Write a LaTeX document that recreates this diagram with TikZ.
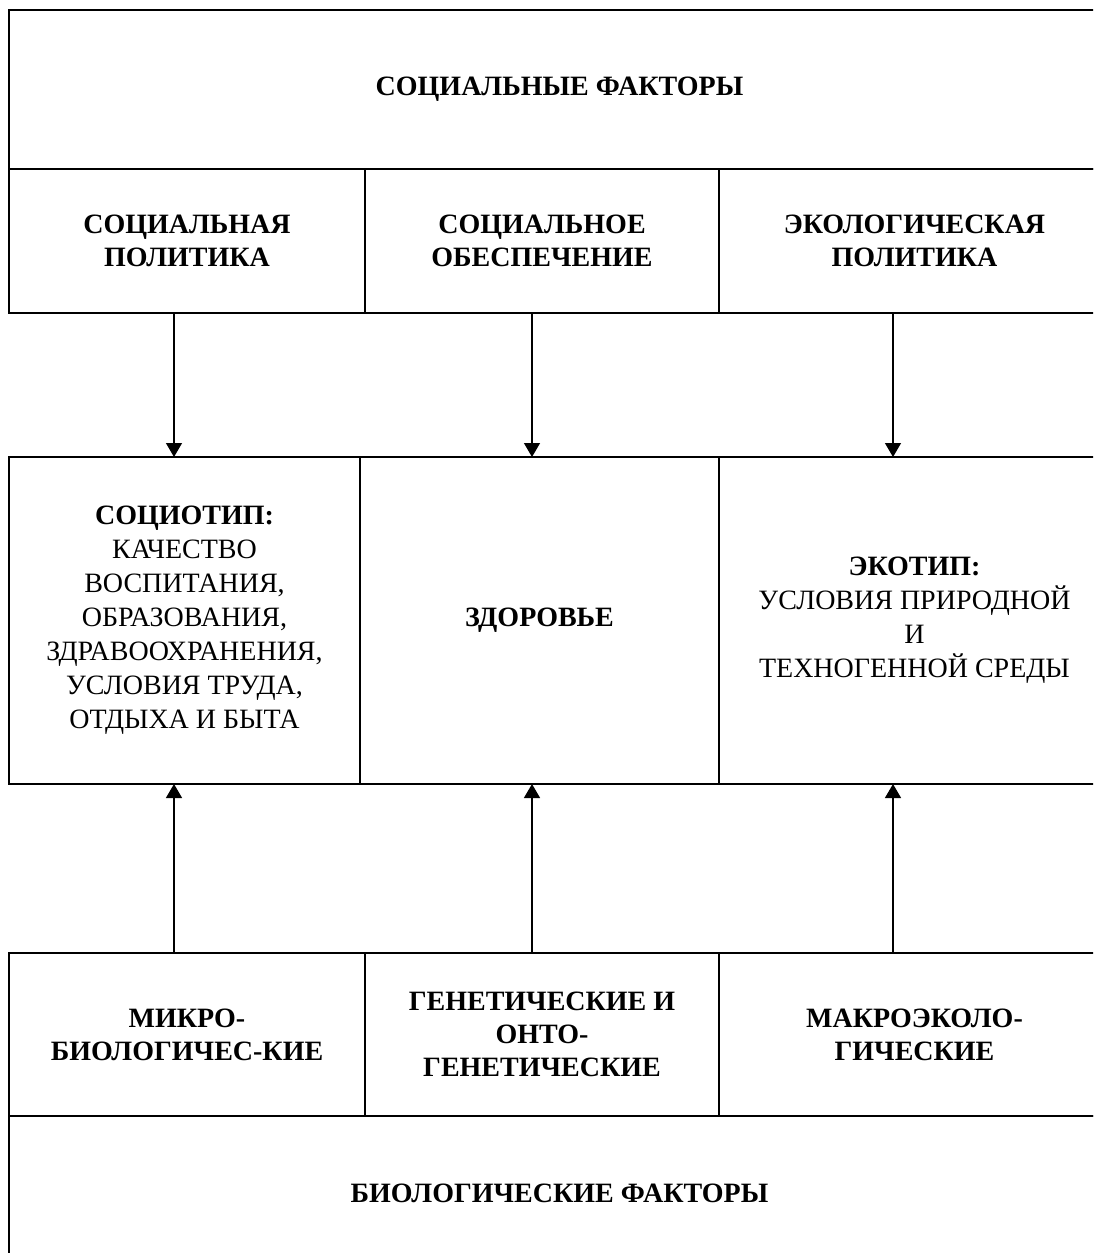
\documentclass[tikz,border=0pt]{standalone}
\usepackage{fontspec}
\setmainfont{Liberation Serif}
\usetikzlibrary{arrows.meta}
\begin{document}
\begin{tikzpicture}[x=1pt,y=-1pt,
  cellbox/.style={draw, line width=2pt, inner sep=0pt, outer sep=0pt, align=center,
    font=\fontsize{28}{34}\selectfont},
  hdr/.style={cellbox, font=\fontsize{28}{33}\selectfont\bfseries},
  arr/.style={line width=1.3pt, -{Triangle[length=14pt,width=16pt]}}]
\useasboundingbox[fill=white] (0,0) rectangle (1093,1253);
\begin{scope}
\clip (0,0) rectangle (1093,1253);
% top
\node[hdr, minimum width=1101pt, minimum height=159pt] (sf) at (559.5,89.5) {СОЦИАЛЬНЫЕ ФАКТОРЫ};
\node[hdr, minimum width=356pt, minimum height=144pt] (b1) at (187,241) {СОЦИАЛЬНАЯ\\ПОЛИТИКА};
\node[hdr, minimum width=354pt, minimum height=144pt] (b2) at (542,241) {СОЦИАЛЬНОЕ\\ОБЕСПЕЧЕНИЕ};
\node[hdr, minimum width=391pt, minimum height=144pt] (b3) at (914.5,241) {ЭКОЛОГИЧЕСКАЯ\\ПОЛИТИКА};
% middle
\node[cellbox, minimum width=351pt, minimum height=327pt] (c1) at (184.5,620.5)
  {\textbf{СОЦИОТИП:}\\КАЧЕСТВО\\ВОСПИТАНИЯ,\\ОБРАЗОВАНИЯ,\\ЗДРАВООХРАНЕНИЯ,\\УСЛОВИЯ ТРУДА,\\ОТДЫХА И БЫТА};
\node[hdr, minimum width=359pt, minimum height=327pt] (c2) at (539.5,620.5) {ЗДОРОВЬЕ};
\node[cellbox, minimum width=391pt, minimum height=327pt] (c3) at (914.5,620.5)
  {\textbf{ЭКОТИП:}\\УСЛОВИЯ ПРИРОДНОЙ\\И\\ТЕХНОГЕННОЙ СРЕДЫ};
% bottom
\node[hdr, minimum width=356pt, minimum height=163pt] (d1) at (187,1034.5) {МИКРО-\\БИОЛОГИЧЕС-КИЕ};
\node[hdr, minimum width=354pt, minimum height=163pt] (d2) at (542,1034.5) {ГЕНЕТИЧЕСКИЕ И\\ОНТО-\\ГЕНЕТИЧЕСКИЕ};
\node[hdr, minimum width=391pt, minimum height=163pt] (d3) at (914.5,1034.5) {МАКРОЭКОЛО-\\ГИЧЕСКИЕ};
\node[hdr, minimum width=1101pt, minimum height=154pt] (bf) at (559.5,1193) {БИОЛОГИЧЕСКИЕ ФАКТОРЫ};
% arrows
\coordinate (xa) at (174,0);
\coordinate (xb) at (532,0);
\coordinate (xc) at (893,0);
\draw[arr] (b1.south -| xa) -- (c1.north -| xa);
\draw[arr] (b2.south -| xb) -- (c2.north -| xb);
\draw[arr] (b3.south -| xc) -- (c3.north -| xc);
\draw[arr] (d1.north -| xa) -- (c1.south -| xa);
\draw[arr] (d2.north -| xb) -- (c2.south -| xb);
\draw[arr] (d3.north -| xc) -- (c3.south -| xc);
\end{scope}
\end{tikzpicture}
\end{document}
